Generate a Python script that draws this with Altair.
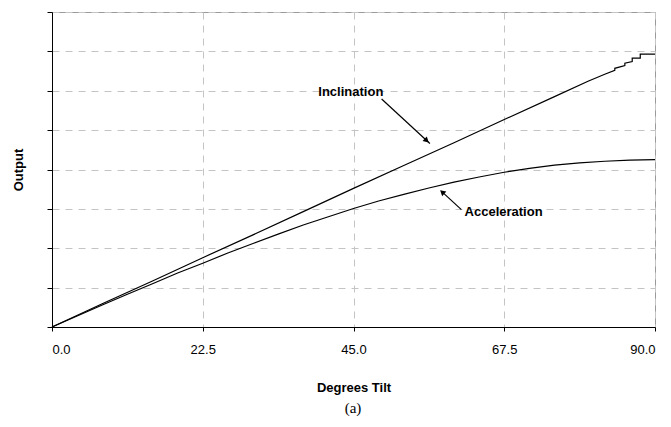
import altair as alt
import pandas as pd

incl_deg = [0, 7.5, 15, 22.5, 30, 37.5, 45, 52.5, 60, 67.5, 75, 80.0, 82.5, 84.0, 84.0, 85.5, 85.5, 86.6, 86.6, 87.8, 87.8, 90.0]
incl_val = [0, 0.59, 1.17, 1.76, 2.34, 2.93, 3.52, 4.10, 4.68, 5.27, 5.85, 6.24, 6.42, 6.52, 6.57, 6.64, 6.70, 6.74, 6.83, 6.83, 6.93, 6.93]

acc_deg = [0, 3.75, 7.5, 11.25, 15, 18.75, 22.5, 26.25, 30, 33.75, 37.5, 41.25, 45,
           48.75, 52.5, 56.25, 60, 63.75, 67.5, 71.25, 75, 78.75, 82.5, 86.25, 90]
acc_val = [0, 0.28, 0.56, 0.83, 1.10, 1.37, 1.62, 1.88, 2.12, 2.36, 2.59, 2.80, 3.01,
           3.20, 3.37, 3.53, 3.68, 3.81, 3.93, 4.03, 4.11, 4.17, 4.21, 4.24, 4.25]

x_ticks = [0, 22.5, 45, 67.5, 90]
y_ticks = [0, 1, 2, 3, 4, 5, 6, 7, 8]

# annotation labels (data coordinates)
ann_text = ["Inclination", "Acceleration"]
ann_x = [44.6, 67.4]
ann_y = [5.96, 2.91]
# arrows: tail -> head
arr_x1 = [49.2, 61.1]
arr_y1 = [5.79, 2.98]
arr_x2 = [56.4, 58.1]
arr_y2 = [4.66, 3.45]
arr_angle = [132.8, 311.5]

rows = []
for i, (d, v) in enumerate(zip(incl_deg, incl_val)):
    rows.append({"series": "Inclination", "deg": d, "val": v, "seq": i})
for i, (d, v) in enumerate(zip(acc_deg, acc_val)):
    rows.append({"series": "Acceleration", "deg": d, "val": v, "seq": i})
df = pd.DataFrame(rows)

ann = pd.DataFrame({"text": ann_text, "x": ann_x, "y": ann_y})
arr = pd.DataFrame({"x1": arr_x1, "y1": arr_y1, "x2": arr_x2, "y2": arr_y2, "angle": arr_angle})
# arrowhead slightly back from the tip
arr["hx"] = arr["x2"] - (arr["x2"] - arr["x1"]) * 0.08
arr["hy"] = arr["y2"] - (arr["y2"] - arr["y1"]) * 0.08

xscale = alt.Scale(domain=[0, 90], nice=False, zero=False)
yscale = alt.Scale(domain=[0, 8], nice=False)

xaxis = alt.Axis(values=x_ticks, format=".1f", title="Degrees Tilt", tickCount=10,
                 grid=True, gridDash=[7, 6], gridColor="#c4c4c4",
                 domainColor="black", tickColor="black", tickSize=4,
                 labelFont="Liberation Sans", labelFontSize=13, labelColor="black",
                 labelPadding=12, titleFont="Liberation Sans", titleFontSize=13,
                 titleFontWeight="bold", titleColor="black", titlePadding=25)
yaxis = alt.Axis(values=y_ticks, labels=False, title="Output", tickCount=12,
                 grid=True, gridDash=[7, 6], gridColor="#c4c4c4",
                 domainColor="black", tickColor="black", tickSize=5,
                 titleFont="Liberation Sans", titleFontSize=13,
                 titleFontWeight="bold", titleColor="black", titlePadding=21)

lines = alt.Chart(df).mark_line(color="black", strokeWidth=1.2).encode(
    x=alt.X("deg:Q", scale=xscale, axis=xaxis),
    y=alt.Y("val:Q", scale=yscale, axis=yaxis),
    detail="series:N",
    order="seq:Q",
)

labels = alt.Chart(ann).mark_text(font="Liberation Sans", fontSize=13, fontWeight="bold",
                                  color="black").encode(
    x=alt.X("x:Q", scale=xscale), y=alt.Y("y:Q", scale=yscale), text="text:N")

arrows = alt.Chart(arr).mark_rule(color="black", strokeWidth=1.2).encode(
    x=alt.X("x1:Q", scale=xscale), y=alt.Y("y1:Q", scale=yscale),
    x2="x2:Q", y2="y2:Q")

heads = alt.Chart(arr).mark_point(shape="triangle", filled=True, color="black",
                                  size=40, opacity=1).encode(
    x=alt.X("hx:Q", scale=xscale), y=alt.Y("hy:Q", scale=yscale),
    angle=alt.Angle("angle:Q", scale=None))

caption = alt.Chart(pd.DataFrame({"t": ["(a)"]})).mark_text(
    font="Liberation Serif", fontSize=15, color="black").encode(
    x=alt.value(301), y=alt.value(396), text="t:N")

chart = alt.layer(lines, arrows, heads, labels, caption).properties(
    width=603, height=315,
    autosize=alt.AutoSizeParams(type="none"),
    padding={"left": 52, "top": 12, "right": 16, "bottom": 100},
    background="white",
).configure_view(stroke="#9a9a9a", strokeWidth=1)

chart.save("out.html", embed_options={"renderer": "svg", "actions": False})
